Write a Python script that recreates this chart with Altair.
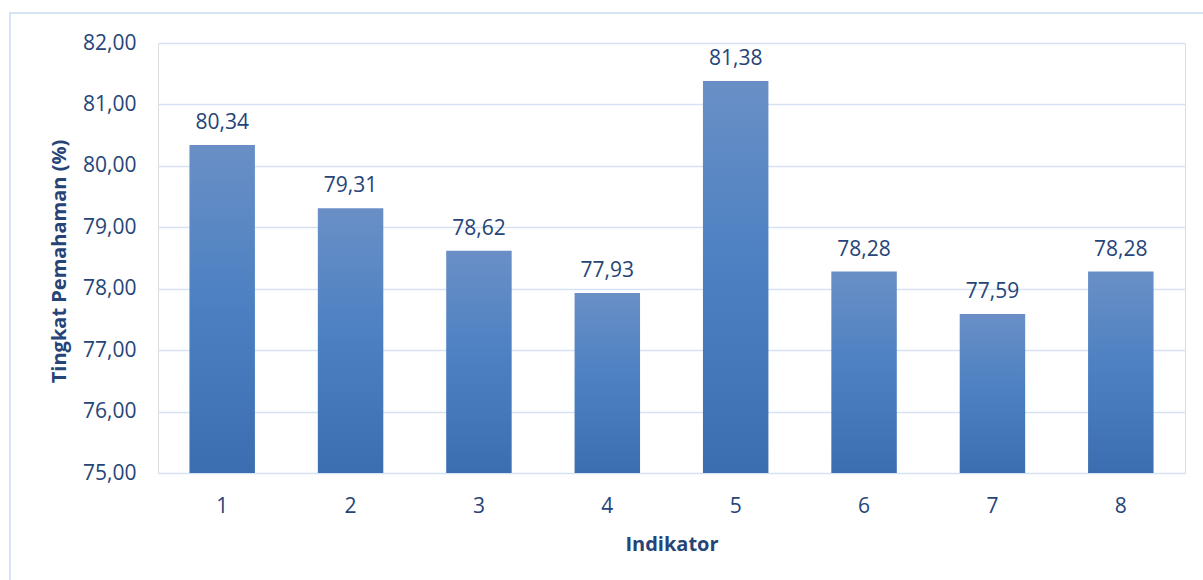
import altair as alt
import pandas as pd

indikator = ["1", "2", "3", "4", "5", "6", "7", "8"]
nilai = [80.34, 79.31, 78.62, 77.93, 81.38, 78.28, 77.59, 78.28]
y_ticks = [75, 76, 77, 78, 79, 80, 81, 82]

df = pd.DataFrame({"Indikator": indikator, "Nilai": nilai})
df["Label"] = [f"{v:.2f}".replace(".", ",") for v in nilai]

TXT = "#264478"
GRID = "#d6e2f3"
FONT = "Open Sans"

grad = alt.Gradient(
    gradient="linear", x1=0, x2=0, y1=0, y2=1,
    stops=[alt.GradientStop(color="#6a8fc6", offset=0),
           alt.GradientStop(color="#4a80c2", offset=0.5),
           alt.GradientStop(color="#3b6eb0", offset=1)])

x_enc = alt.X("Indikator:N", sort=indikator,
              scale=alt.Scale(paddingInner=0.49, paddingOuter=0.245),
              axis=alt.Axis(title="Indikator", labelAngle=0, ticks=False, domain=False,
                            labelPadding=22, labelFontSize=21, labelColor=TXT, labelFont=FONT,
                            titleFontSize=20, titleFont=FONT, titleColor=TXT, titleFontWeight="bold",
                            titleY=71, titleBaseline="middle"))

y_scale = alt.Scale(domain=[75, 82], zero=False, nice=False)

bars = alt.Chart(df).mark_bar(color=grad).encode(
    x=x_enc,
    y=alt.Y("Nilai:Q", scale=y_scale,
            axis=alt.Axis(title="Tingkat Pemahaman (%)", values=y_ticks, ticks=False, domain=False,
                          labelExpr="replace(format(datum.value, '.2f'), '.', ',')",
                          labelPadding=22, labelFontSize=21, labelColor=TXT, labelFont=FONT,
                          titleFontSize=20, titleFont=FONT, titleColor=TXT, titleFontWeight="bold",
                          titleX=-99, titleY=218, titleBaseline="middle",
                          grid=True, gridColor=GRID, gridWidth=1.6)),
    y2=alt.datum(75),
)

labels = alt.Chart(df).mark_text(baseline="bottom", dy=-12, fontSize=21, color=TXT, font=FONT).encode(
    x=alt.X("Indikator:N", sort=indikator),
    y=alt.Y("Nilai:Q", scale=y_scale),
    text="Label:N",
)

border = alt.Chart(pd.DataFrame({"a": [0]})).mark_rect(fill=None, stroke="#d6e3f4", strokeWidth=2).encode(
    x=alt.value(-148), x2=alt.value(1100), y=alt.value(-30), y2=alt.value(600))

chart = alt.layer(border, bars, labels).properties(
    width=1027, height=430,
    autosize=alt.AutoSizeParams(type="none"),
    padding={"left": 158, "top": 43, "right": 18, "bottom": 107},
).configure_view(stroke=None).configure(background="white")

chart.save("out.html", embed_options={"renderer": "svg", "actions": False})
